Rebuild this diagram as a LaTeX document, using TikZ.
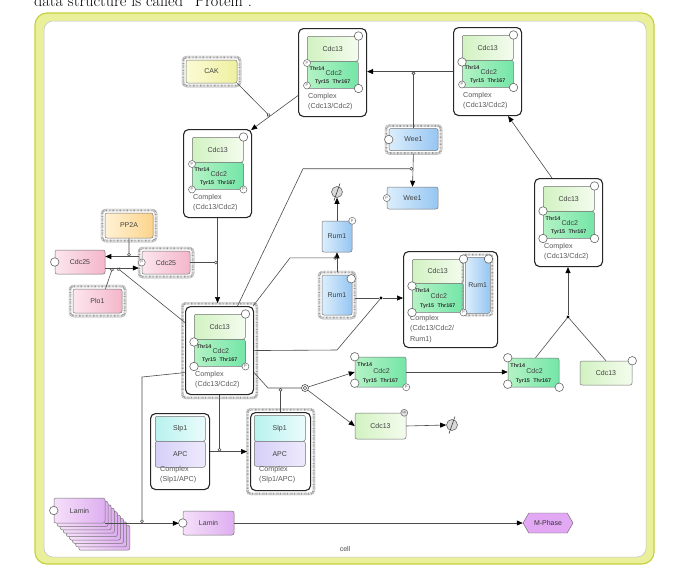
\documentclass[tikz,border=0pt]{standalone}
\usepackage{fontspec}
\setsansfont{Liberation Sans}
\usetikzlibrary{arrows.meta,shapes.symbols,calc}
\definecolor{framefill}{HTML}{EAF09A}
\definecolor{frameline}{HTML}{C8D040}
\definecolor{c13l}{HTML}{D2F2C2}
\definecolor{c13r}{HTML}{F4FCEE}
\definecolor{c2l}{HTML}{B4F2C4}
\definecolor{c2r}{HTML}{74E6A8}
\definecolor{bluel}{HTML}{DCEEFC}
\definecolor{bluer}{HTML}{96C6F2}
\definecolor{pinkl}{HTML}{FCE6EE}
\definecolor{pinkr}{HTML}{F4B6CA}
\definecolor{orl}{HTML}{FFF2D6}
\definecolor{orr}{HTML}{FCD48C}
\definecolor{yel}{HTML}{FBFBD6}
\definecolor{yer}{HTML}{EEF0A0}
\definecolor{cyl}{HTML}{B8F2EE}
\definecolor{cyr}{HTML}{EAFCFC}
\definecolor{apl}{HTML}{D6D0F8}
\definecolor{apr}{HTML}{EEEAFC}
\definecolor{laml}{HTML}{F6E0FA}
\definecolor{lamr}{HTML}{DEAEF0}
\definecolor{mph}{HTML}{E2A8F4}
\pgfdeclarelayer{bg}
\pgfdeclarelayer{ring}
\pgfsetlayers{bg,ring,main}
\tikzset{
  base/.style={font=\sffamily\fontsize{7}{8}\selectfont, text=black!75},
  smalllab/.style={font=\sffamily\bfseries\fontsize{5.4}{6}\selectfont, text=black!80, inner sep=0pt},
  pbox/.style={rectangle, rounded corners=2pt, draw=black!55, line width=0.5pt, inner sep=0pt, base},
  c13/.style={pbox, left color=c13l, right color=c13r},
  c2/.style={pbox, left color=c2l, right color=c2r},
  blu/.style={pbox, left color=bluel, right color=bluer},
  pnk/.style={pbox, left color=pinkl, right color=pinkr},
  org/.style={pbox, left color=orl, right color=orr},
  yel/.style={pbox, left color=yel, right color=yer},
  slp/.style={pbox, left color=cyl, right color=cyr},
  apc/.style={pbox, left color=apl, right color=apr},
  lam/.style={pbox, left color=laml, right color=lamr},
  cplx/.style={rectangle, rounded corners=5pt, draw=black!85, line width=1.1pt, fill=white, inner sep=0pt},
  cplxlab/.style={font=\sffamily\fontsize{7.2}{10.5}\selectfont, text=black!65, align=left, inner sep=1pt},
  st/.style={circle, draw=black!60, fill=white, minimum size=8.5pt, inner sep=0pt, line width=0.6pt},
  pst/.style={circle, draw=black!60, fill=white, minimum size=7pt, inner sep=0pt, line width=0.5pt, font=\sffamily\fontsize{4}{4}\selectfont, text=black!60},
  ubst/.style={circle, draw=black!60, fill=black!12, minimum size=7pt, inner sep=0pt, line width=0.5pt, font=\sffamily\fontsize{3}{3}\selectfont, text=black!70},
  degr/.style={circle, draw=black!60, fill=black!15, minimum size=11pt, inner sep=0pt, line width=0.6pt},
  slash/.style={draw=black!75, line width=0.6pt},
  dotn/.style={circle, fill=black, minimum size=3.2pt, inner sep=0pt},
  ringband/.style={draw=black!40, line width=2pt, dash pattern=on 0.7pt off 0.7pt, rounded corners=3pt},
  ringout/.style={draw=black!35, line width=0.4pt, rounded corners=4.5pt},
  line/.style={draw=black!70, line width=0.6pt},
  arr/.style={line, -{Triangle[length=6pt,width=5pt,color=black]}},
  mod/.style={line, -{Circle[open,length=3.6pt,width=3.6pt,line width=0.6pt]}}
}
\newcommand\ringof[1]{%
  \begin{pgfonlayer}{ring}
  \draw[ringband] ([shift={(-2.4pt,2.4pt)}]#1.north west) rectangle ([shift={(2.4pt,-2.4pt)}]#1.south east);
  \draw[ringout] ([shift={(-3.8pt,3.8pt)}]#1.north west) rectangle ([shift={(3.8pt,-3.8pt)}]#1.south east);
  \end{pgfonlayer}}
\newcommand\cdclab[1]{%
  \node[smalllab, anchor=west] (#1a) at ([xshift=2.5pt,yshift=-8pt]#1.north west) {Thr14};
  \node[base, inner sep=0pt] (#1b) at ([xshift=1pt,yshift=1.5pt]#1.center) {Cdc2};
  \node[smalllab] (#1c) at ([yshift=6.5pt]#1.south) {Tyr15\hspace{3.5pt}Thr167};}
\newcommand\mkcplx[3]{%
  \node[cplx, minimum width=68pt, minimum height=88pt, anchor=north west] (#1) at (#2,#3) {};
  \node[c13, minimum width=51pt, minimum height=25pt, anchor=north west] (#113) at (#2+9,#3+8) {Cdc13};
  \node[c2, minimum width=51pt, minimum height=27pt, anchor=north west] (#12) at (#2+9,#3+33) {};
  \cdclab{#12}
  \node[cplxlab, anchor=north west] (#1lab) at (#2+9,#3+64) {Complex\\(Cdc13/Cdc2)};}
\begin{document}
\begin{tikzpicture}[x=1pt,y=-1pt]
\useasboundingbox (0,0) rectangle (682,582);
\begin{pgfonlayer}{bg}
\fill[white] (0,0) rectangle (682,582);
\draw[draw=frameline, fill=framefill, line width=1.2pt, rounded corners=12pt] (35,13) rectangle (654,564);
\draw[draw=black!25, fill=white, line width=0.5pt, rounded corners=9pt] (44,21) rectangle (646,557);
\end{pgfonlayer}
\node[anchor=base west, font=\fontsize{16.2}{18}\selectfont, inner sep=0pt] (toptext) at (34,6) {data structure is called “Protein”.};

% ---- complexes Cdc13/Cdc2
\mkcplx{A}{298}{28}
\node[st] (As1) at (A13.north east) {};
\node[pst] (As2) at ([yshift=-2pt]A2.north west) {P};
\node[pst] (As3) at ([yshift=3pt]A2.south west) {P};
\node[st] (As4) at (A2.south east) {};

\mkcplx{B}{453}{27}
\node[st] (Bs1) at (B13.north east) {};
\node[st] (Bs2) at ([yshift=-2pt]B2.north west) {};
\node[pst] (Bs3) at ([yshift=3pt]B2.south west) {P};
\node[st] (Bs4) at (B2.south east) {};

\mkcplx{C}{183}{129}
\node[st] (Cs1) at (C13.north east) {};
\node[pst] (Cs2) at ([yshift=-2pt]C2.north west) {P};
\node[pst] (Cs3) at (C2.south west) {P};
\node[pst] (Cs4) at (C2.south east) {P};

\mkcplx{E}{185}{306}
\ringof{E}
\node[st] (Es1) at (E13.north east) {};
\node[st] (Es2) at ([yshift=-3pt]E2.north west) {};
\node[st] (Es3) at (E2.south west) {};
\node[pst] (Es4) at (E2.south east) {P};

\mkcplx{J}{534}{178}
\node[st] (Js1) at (J13.north east) {};
\node[st] (Js2) at (J2.north west) {};
\node[st] (Js3) at (J2.south west) {};
\node[st] (Js4) at (J2.south east) {};

% ---- complex with Rum1
\node[cplx, minimum width=94pt, minimum height=96pt, anchor=north west] (D) at (403,251) {};
\node[c13, minimum width=51pt, minimum height=24pt, anchor=north west] (D13) at (412,259) {Cdc13};
\node[c2, minimum width=51pt, minimum height=29pt, anchor=north west] (D2) at (412,283) {};
\cdclab{D2}
\draw[ringband] (462.6,254.6) rectangle (492.4,315.4);
\node[blu, minimum width=25pt, minimum height=56pt, anchor=north west] (Drum) at (465,257) {Rum1};
\node[cplxlab, anchor=north west] (Dlab) at (409,314) {Complex\\(Cdc13/Cdc2/\\Rum1)};
\node[st] (Ds1) at (D13.north east) {};
\node[st] (Ds2) at ([yshift=-3pt]D2.north west) {};
\node[st] (Ds3) at (D2.south west) {};
\node[pst] (Ds4) at (D2.south east) {P};
\node[st] (Ds5) at ([xshift=-2pt,yshift=-2pt]Drum.north east) {};

% ---- free species
\node[c2, minimum width=51pt, minimum height=30pt] (F) at (380.5,372) {};
\cdclab{F}
\node[st] (Fs1) at (F.north west) {};
\node[st] (Fs2) at ([yshift=4pt]F.south west) {};
\node[pst] (Fs3) at (F.south east) {P};

\node[c2, minimum width=51pt, minimum height=29pt] (G) at (533.5,372.5) {};
\cdclab{G}
\node[st] (Gs1) at (G.north west) {};
\node[st] (Gs2) at ([yshift=3pt]G.south west) {};
\node[st] (Gs3) at (G.south east) {};

\node[c13, minimum width=52pt, minimum height=24pt] (H) at (606,373) {Cdc13};
\node[st] (Hs1) at (H.north east) {};

\node[c13, minimum width=51pt, minimum height=26pt] (I) at (380.5,426) {Cdc13};
\node[ubst] (Iub) at ([xshift=-2pt]I.north east) {Ub};

\node[degr] (deg1) at (337,192) {};
\node[degr] (deg2) at (452,425) {};

\node[blu, minimum width=30pt, minimum height=31pt] (R1) at (337,236.5) {Rum1};
\node[pst] (R1s) at (R1.north east) {P};
\node[blu, minimum width=30pt, minimum height=40pt] (R2) at (337,295) {Rum1};
\ringof{R2}
\node[st] (R2s) at ([xshift=-1pt,yshift=-4pt]R2.north east) {};

\node[blu, minimum width=49pt, minimum height=22pt] (W1) at (413.5,139.5) {Wee1};
\ringof{W1}
\node[st] (W1s) at (W1.west) {};
\node[blu, minimum width=51pt, minimum height=22pt] (W2) at (412.5,198) {Wee1};
\node[pst] (W2s) at (W2.west) {P};

\node[yel, minimum width=51pt, minimum height=23pt] (CAK) at (211.5,71.5) {CAK};
\ringof{CAK}
\node[org, minimum width=48pt, minimum height=25pt] (PP2A) at (129,225.5) {PP2A};
\ringof{PP2A}
\node[pnk, minimum width=50pt, minimum height=24pt] (O) at (80,262) {Cdc25};
\node[st] (Os) at (O.west) {};
\node[pnk, minimum width=48pt, minimum height=23pt] (Q) at (166,262.5) {Cdc25};
\ringof{Q}
\node[pst] (Qs) at (Q.west) {P};
\node[pnk, minimum width=49pt, minimum height=24pt] (Plo1) at (97.5,301) {Plo1};
\ringof{Plo1}

% ---- Slp1/APC complexes
\node[cplx, minimum width=59pt, minimum height=76pt, anchor=north west] (K) at (150,413) {};
\node[slp, minimum width=50pt, minimum height=25pt, anchor=north west] (K1) at (155,416) {Slp1};
\node[apc, minimum width=50pt, minimum height=26pt, anchor=north west] (K2) at (155,441) {APC};
\node[cplxlab, anchor=north west] (Klab) at (159,465) {Complex\\(Slp1/APC)};

\node[cplx, minimum width=60pt, minimum height=78pt, anchor=north west] (L) at (250,412) {};
\ringof{L}
\node[slp, minimum width=51pt, minimum height=26pt, anchor=north west] (L1) at (254,415) {Slp1};
\node[apc, minimum width=51pt, minimum height=25pt, anchor=north west] (L2) at (254,441) {APC};
\node[cplxlab, anchor=north west] (Llab) at (258,465) {Complex\\(Slp1/APC)};

% ---- Lamin
\foreach \i in {8,7,6,5,4,3,2,1} {
  \node[lam, minimum width=51pt, minimum height=25pt] (lam\i) at (79.5+3.1*\i, 510.5+3.4*\i) {};
}
\node[lam, minimum width=51pt, minimum height=25pt] (lamF) at (79.5,510.5) {Lamin};
\node[st] (lamFs) at (lamF.west) {};
\node[lam, minimum width=51pt, minimum height=24pt] (N) at (208.5,523) {Lamin};
\node[st] (Ns) at (N.west) {};
\node[signal, signal to=east and west, signal pointer angle=120, draw=black!60, fill=mph, minimum width=50pt, minimum height=20pt, inner sep=1pt, base, text=black!80] (MP) at (548,523) {M-Phase};

\node[base, text=black!70] (celllab) at (345,549) {cell};

% ---- junctions
\node[dotn] (dot1) at (381,298) {};
\node[dotn] (dot2) at (568,317) {};
\node[circle, draw=black!70, fill=white, minimum size=7pt, inner sep=0pt, line width=0.6pt] (jn) at (305,388) {};
\node[circle, draw=black!70, minimum size=3.5pt, inner sep=0pt, line width=0.5pt] (jn2) at (305,388) {};

% degradation slashes
\draw[slash] ([xshift=-3pt,yshift=-8.5pt]deg1.center) -- ([xshift=3pt,yshift=8.5pt]deg1.center);
\draw[slash] ([xshift=-3pt,yshift=-8.5pt]deg2.center) -- ([xshift=3pt,yshift=8.5pt]deg2.center);

% ---- connectors
\draw[arr] ([yshift=-23pt]A.west) -- coordinate[pos=0.6] (cakm) ([xshift=-1pt,yshift=-1pt]C.north east);
\draw[mod] (CAK.south east) -- (cakm);
\draw[arr] (B.west) -- (B.west -| A.east);
\draw[mod] (W1.north) -- (W1.north |- B.west);
\draw[arr, shorten >=3pt] (C.south) -- (C.south |- E.north);
\draw[mod] (Q.east) -- (Q.east -| C.south);

\coordinate (q1) at ([yshift=6pt]Q.west);
\coordinate (q2) at ([yshift=-6pt]O.east);
\draw[arr, shorten <=3pt] (q1) -- coordinate[pos=0.35] (ppm) (q1 -| O.east);
\draw[arr, shorten >=3pt] (q2) -- coordinate[pos=0.2] (plom) coordinate[pos=0.33] (cem) (q2 -| Q.west);
\draw[mod] (PP2A.south) -- (ppm);
\draw[mod] ([xshift=8pt]Plo1.north) -- (plom);
\draw[mod] ([yshift=28pt]E.west) -- (cem);

\draw[arr, shorten <=3pt] (W1.south) -- coordinate[pos=0.5] (weem) (W2.north);
\coordinate (bend1) at (303,169);
\draw[mod] ([xshift=18pt]E.north) -- (bend1 |- weem) -- (weem);

\draw[arr] (R1.north) -- (deg1.south);
\draw[arr, shorten <=3pt] (R2.north) -- coordinate[pos=0.75] (rumm) (R1.south);
\coordinate (bend2) at (290,258);
\draw[mod] ([xshift=-1pt]E.north east) -- (bend2 |- rumm) -- (rumm);

\draw[line, shorten <=3pt] (R2.east |- dot1) -- (dot1);
\draw[arr] (dot1) -- (dot1 -| D.west);
\coordinate (bend3) at (337,350);
\draw[line] (E.east) -- (bend3) -- (dot1);

\coordinate (bend4) at (268,388);
\draw[line] ([yshift=-22pt]E.east) -- (bend4) -- (jn);
\draw[mod] (L.north) -- (L.north |- jn);
\draw[arr] (jn) -- (F.west);
\draw[arr] (jn) -- (I.west);
\draw[arr] (F.east) -- (F.east -| G.west);
\draw[arr] (I.east) -- (deg2.west);

\draw[line] ([xshift=2pt]G.north) -- (dot2);
\draw[line] (H.north) -- (dot2);
\draw[arr] (dot2) -- (dot2 |- J.south);
\draw[arr] ([xshift=18pt]J.north west) -- ([xshift=-14pt]B.south east);

\draw[arr, shorten >=3pt] (K.east) -- (K.east -| L.west);
\draw[mod] (E.south) -- (E.south |- K.east);

\coordinate (bend5) at (142,377);
\draw[mod] ([yshift=-22pt]E.west) -- (bend5) -- (bend5 |- N.west);
\draw[arr, shorten >=4pt] (lamF.south east) -- (lamF.south east -| N.west);
\draw[arr] (N.east) -- (MP.west);
\end{tikzpicture}
\end{document}
